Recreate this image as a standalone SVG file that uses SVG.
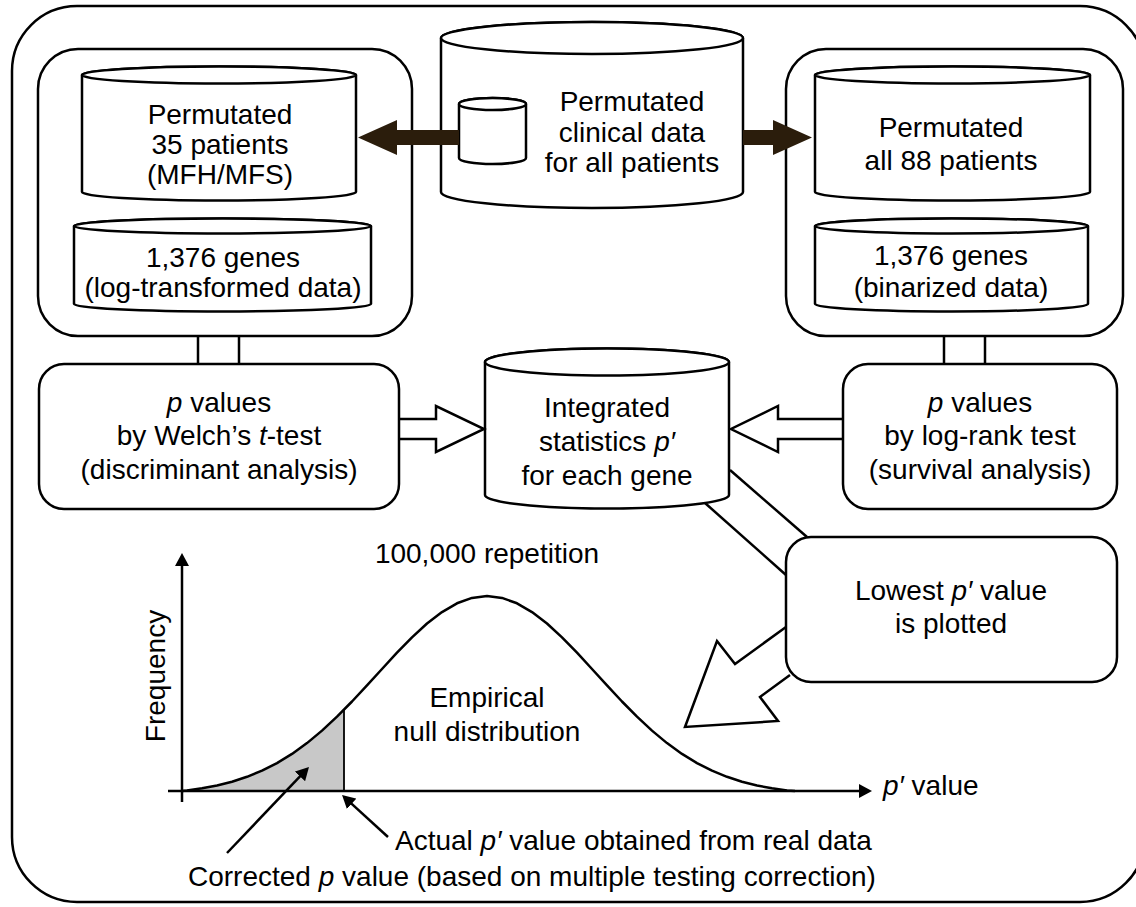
<svg xmlns="http://www.w3.org/2000/svg" width="1136" height="907" viewBox="0 0 1136 907">
<style>
text{font-family:"Liberation Sans",Arial,sans-serif;font-size:28px;fill:#000}
.m{text-anchor:middle}
.i{font-style:italic}
.s{fill:#fff;stroke:#000;stroke-width:2.5}
.l{fill:none;stroke:#000;stroke-width:2.5;stroke-linejoin:miter}
.dk{fill:#2b1d0c;stroke:none}
</style>
<defs>
<marker id="ah" viewBox="0 0 13 14" refX="1" refY="7" markerWidth="13" markerHeight="14" markerUnits="userSpaceOnUse" orient="auto">
<path d="M0,0 L13,7 L0,14 Z" fill="#000"/>
</marker>
</defs>
<rect x="12" y="6" width="1133" height="896" rx="65" ry="65" fill="#fff" stroke="#000" stroke-width="2.5"/>

<g id="left-group">
<rect class="s" x="38" y="49" width="374" height="287" rx="40"/>
<g id="left-patients">
<path class="s" d="M82,75 V192 A137,8.5 0 0 0 356,192 V75 A137,8.5 0 0 0 82,75 Z"/>
<ellipse class="s" cx="219" cy="75" rx="137" ry="8.5"/>
<text class="m" x="220" y="124">Permutated</text>
<text class="m" x="220" y="154">35 patients</text>
<text class="m" x="220" y="184">(MFH/MFS)</text>
</g>
<g id="left-genes">
<path class="s" d="M74,226 V304 A148.5,7.5 0 0 0 371,304 V226 A148.5,7.5 0 0 0 74,226 Z"/>
<ellipse class="s" cx="222.5" cy="226" rx="148.5" ry="7.5"/>
<text class="m" x="223" y="267">1,376 genes</text>
<text class="m" x="223" y="297">(log-transformed data)</text>
</g>
</g>

<g id="clinical">
<path class="s" d="M441,38 V192 A151,16 0 0 0 743,192 V38 A151,16 0 0 0 441,38 Z"/>
<ellipse class="s" cx="592" cy="38" rx="151" ry="16"/>
<g id="clinical-small">
<path class="s" d="M459,104 V158 A33.5,6 0 0 0 526,158 V104 A33.5,6 0 0 0 459,104 Z"/>
<ellipse class="s" cx="492.5" cy="104" rx="33.5" ry="6"/>
</g>
<text class="m" x="632" y="111">Permutated</text>
<text class="m" x="632" y="142">clinical data</text>
<text class="m" x="632" y="172">for all patients</text>
</g>

<g id="right-group">
<rect class="s" x="786" y="49" width="337" height="287" rx="40"/>
<g id="right-patients">
<path class="s" d="M815,75 V192 A137.5,8.5 0 0 0 1090,192 V75 A137.5,8.5 0 0 0 815,75 Z"/>
<ellipse class="s" cx="952.5" cy="75" rx="137.5" ry="8.5"/>
<text class="m" x="951" y="137">Permutated</text>
<text class="m" x="951" y="170">all 88 patients</text>
</g>
<g id="right-genes">
<path class="s" d="M815,226 V304 A136.5,7.5 0 0 0 1088,304 V226 A136.5,7.5 0 0 0 815,226 Z"/>
<ellipse class="s" cx="951.5" cy="226" rx="136.5" ry="7.5"/>
<text class="m" x="951" y="265">1,376 genes</text>
<text class="m" x="951" y="297">(binarized data)</text>
</g>
</g>

<g id="welch">
<rect class="s" x="39" y="364" width="360" height="145" rx="25"/>
<text class="m" x="219" y="412"><tspan class="i">p</tspan> values</text>
<text class="m" x="219" y="445">by Welch’s <tspan class="i">t</tspan>-test</text>
<text class="m" x="219" y="479">(discriminant analysis)</text>
</g>

<g id="integrated">
<path class="s" d="M485,362 V495 A122,13.5 0 0 0 729,495 V362 A122,13.5 0 0 0 485,362 Z"/>
<ellipse class="s" cx="607" cy="362" rx="122" ry="13.5"/>
<text class="m" x="607" y="417">Integrated</text>
<text class="m" x="607" y="451">statistics <tspan class="i">p′</tspan></text>
<text class="m" x="607" y="485">for each gene</text>
</g>

<g id="logrank">
<rect class="s" x="843" y="364" width="274" height="145" rx="25"/>
<text class="m" x="980" y="412"><tspan class="i">p</tspan> values</text>
<text class="m" x="980" y="445">by log-rank test</text>
<text class="m" x="980" y="479">(survival analysis)</text>
</g>

<g id="lowest">
<rect class="s" x="786" y="537" width="331" height="145" rx="25"/>
<text class="m" x="951" y="600">Lowest <tspan class="i">p′</tspan> value</text>
<text class="m" x="951" y="633">is plotted</text>
</g>

<g id="plot">
<polygon fill="#c8c8c8" stroke="none" points="182,791 187,790.5 202,788.3 217,785.5 232,781.7 247,776.8 262,770.7 277,763.1 292,753.9 307,743.1 322,730.6 337,716.7 344,709.7 344,791"/>
<line x1="344" y1="709.7" x2="344" y2="791" stroke="#000" stroke-width="1.8"/>
<polyline fill="none" stroke="#000" stroke-width="2.5" stroke-linejoin="round" points="182,791 187,790.5 202,788.3 217,785.5 232,781.7 247,776.8 262,770.7 277,763.1 292,753.9 307,743.1 322,730.6 337,716.7 352,701.5 367,685.3 382,669 397,652.7 412,637.3 427,623.5 442,612.1 457,603.3 472,597.9 487,596 502,597.9 517,603.3 532,612.1 547,623.5 562,637.3 577,652.7 592,669 607,685.3 622,701.5 637,716.7 652,730.6 667,743.1 682,753.9 697,763.1 712,770.7 727,776.8 742,781.7 757,785.5 772,788.3 787,790.5 795,791"/>
<line x1="182" y1="802" x2="182" y2="565" stroke="#000" stroke-width="2.5" marker-end="url(#ah)"/>
<line x1="168" y1="791" x2="860" y2="791" stroke="#000" stroke-width="2.5" marker-end="url(#ah)"/>
<text transform="translate(165,676) rotate(-90)" class="m">Frequency</text>
<text x="883" y="795"><tspan class="i">p′</tspan> value</text>
<text class="m" x="487" y="563">100,000 repetition</text>
<text class="m" x="487" y="707">Empirical</text>
<text class="m" x="487" y="741">null distribution</text>
<text x="395" y="850">Actual <tspan class="i">p′</tspan> value obtained from real data</text>
<text x="188" y="886">Corrected <tspan class="i">p</tspan> value (based on multiple testing correction)</text>
</g>

<g id="connectors">
<line class="l" x1="198" y1="336" x2="198" y2="364"/>
<line class="l" x1="239" y1="336" x2="239" y2="364"/>
<line class="l" x1="944" y1="336" x2="944" y2="364"/>
<line class="l" x1="985" y1="336" x2="985" y2="364"/>
<polyline class="l" points="399,419 436,419 436,406 484,429 436,452 436,439 399,439"/>
<polyline class="l" points="843,419 778,419 778,406 731,429 778,452 778,439 843,439"/>
<line class="l" x1="705" y1="503" x2="786" y2="575"/>
<line class="l" x1="730" y1="470" x2="807" y2="537"/>
<polyline class="l" points="786,627 735,664 717,641 685,727 778,721 760,697 790,675"/>
<polygon class="dk" points="459,130 397,130 397,120 358,137.5 397,155 397,145 459,145"/>
<polygon class="dk" points="743,130 773,130 773,120 812,137.5 773,155 773,145 743,145"/>
<line x1="227" y1="853" x2="300.7" y2="775.7" stroke="#000" stroke-width="2.5" marker-end="url(#ah)"/>
<line x1="388" y1="837" x2="350.9" y2="803.1" stroke="#000" stroke-width="2.5" marker-end="url(#ah)"/>
</g>
</svg>
